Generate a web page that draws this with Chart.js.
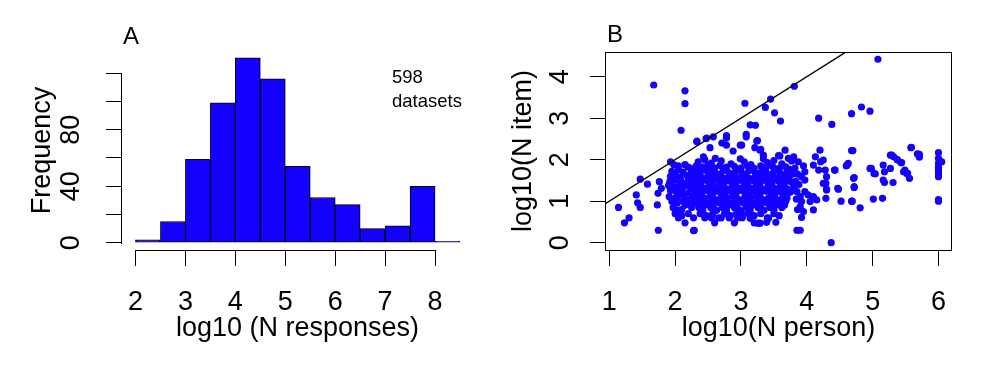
<!DOCTYPE html>
<html>
<head>
<meta charset="utf-8">
<script src="https://cdn.jsdelivr.net/npm/chart.js@4.4.1/dist/chart.umd.min.js"></script>
<style>
  html, body { margin: 0; padding: 0; background: #fff; }
  #wrap { position: relative; width: 996px; height: 371px; overflow: hidden; }
  canvas { position: absolute; top: 0; }
  #histA { left: 0; }
  #scatB { left: 498px; }
</style>
</head>
<body>
<div id="wrap">
  <canvas id="histA" width="498" height="371"></canvas>
  <canvas id="scatB" width="498" height="371"></canvas>
</div>
<script>
//
// Panel A : histogram of log10 (N responses)
var binEdges = [2, 2.5, 3, 3.5, 4, 4.5, 5, 5.5, 6, 6.5, 7, 7.5, 8, 8.5];
var binCounts = [2, 15, 59, 99, 131, 116, 54, 32, 27, 10, 12, 40, 1];
var histXTicks = [2, 3, 4, 5, 6, 7, 8];
var histYTicks = [0, 20, 40, 60, 80, 100, 120];
var histYLabels = ['0', '', '40', '', '80', '', ''];

//
// Panel B : log10(N person) vs log10(N item)
var scatXTicks = [1, 2, 3, 4, 5, 6];
var scatYTicks = [0, 1, 2, 3, 4];
var diagLine = [0, 5];
var scatPoints = [
    // sparse points, left and top
    [1.14,0.85],[1.23,0.48],[1.30,0.60],[1.41,1.15],[1.43,0.96],[1.47,0.85],[1.47,1.53],[1.58,1.41],
    [1.675,3.80],[1.745,0.30],[1.73,0.91],[1.76,1.47],[1.79,1.31],[1.74,1.19],[2.29,0.30],[2.28,0.29],
    [2.09,2.71],[2.15,3.66],[2.15,3.35],[2.33,2.45],[2.47,2.51],[2.78,2.58],[3.06,3.36],[3.08,2.61],
    [3.14,2.84],[3.22,2.83],[3.37,3.26],[3.45,3.46],[3.51,3.13],[3.60,2.93],[3.81,3.77],[4.18,3.00],
    [4.38,2.85],[4.68,3.11],[4.83,3.27],[4.96,3.17],[5.08,4.42],[4.37,0.00],[3.85,0.30],[3.90,0.30],
    [3.53,0.49],[3.29,0.47],[3.39,0.49],[3.14,0.59],[3.42,0.59],[3.01,0.71],
    // above the main cloud
    [2.33,2.43],[2.48,2.52],[2.58,2.55],[2.53,2.29],[2.71,2.40],[2.78,2.52],[2.78,2.35],[2.88,2.21],
    [2.99,2.35],[2.99,2.02],[3.08,2.55],[3.24,2.45],[3.21,2.29],[3.29,2.23],[3.34,2.02],[3.30,2.25],
    [3.34,2.11],[3.67,2.23],[3.57,2.10],[3.72,2.03],[3.77,1.97],[3.59,2.09],[2.61,2.03],[2.43,2.07],
    [3.25,2.46],[3.01,2.35],
    // right side
    [3.80,2.07],[3.87,1.95],[3.95,1.85],[3.97,1.71],[3.92,1.59],[3.97,1.51],[4.13,2.07],[4.20,2.23],
    [4.25,1.99],[4.10,1.87],[4.18,1.75],[4.28,1.75],[4.25,1.43],[4.30,1.29],[4.29,1.07],[4.10,0.79],
    [4.42,1.75],[4.48,1.29],[4.52,1.00],[4.61,1.87],[4.63,1.91],[4.68,2.22],[4.71,1.55],[4.72,1.33],
    [4.68,1.00],[4.81,0.84],[4.96,1.79],[5.02,1.67],[5.01,1.05],[5.15,1.07],[5.16,1.87],[5.18,1.71],
    [5.27,1.79],[5.16,1.51],[5.18,1.45],[5.31,1.45],[5.27,2.11],[5.32,2.07],[5.38,1.99],[5.44,1.93],
    [5.49,1.75],[5.53,1.67],[5.56,1.55],[5.59,2.30],[5.68,2.14],[5.71,2.06],
    [6.00,2.17],[6.00,2.03],[6.00,1.91],[6.00,1.82],[6.00,1.75],[6.00,1.69],[6.00,1.64],[6.00,1.59],
    [6.05,1.95],[6.00,1.00],[6.00,1.04],
    [3.80,1.35],[3.85,1.23],[3.90,1.11],[3.92,0.99],[3.90,0.87],[3.95,0.75],[3.92,0.61],[4.10,1.11],
    [4.15,1.03],[4.05,0.99],[3.97,1.23],[4.02,1.15],[4.30,1.59],[4.29,1.43],[4.30,1.27],[4.21,1.95],
    [4.47,1.31],[4.43,1.75],[4.60,1.85],[4.70,2.22],[4.72,1.57],[4.72,1.35],[4.69,1.00],[4.98,1.79],
    [5.04,1.66],[5.29,2.11],[5.37,2.01],[5.43,1.93],[5.47,1.71],[5.52,1.67],[5.58,2.29],[5.71,2.13],
    [3.82,1.80],[3.86,1.65],[3.83,1.48],[3.88,1.40],[3.84,1.05],[3.86,0.80],
    // left part of the main cloud
    [2.05,1.85],[2.15,1.88],[2.20,1.82],[1.95,1.72],[2.05,1.76],[2.12,1.70],[2.25,1.78],
    [1.93,1.60],[2.00,1.64],[2.08,1.58],[2.18,1.62],[2.26,1.60],[1.92,1.48],[2.00,1.52],[2.10,1.46],
    [2.20,1.50],[2.28,1.45],[1.90,1.38],[1.98,1.34],[2.06,1.40],[2.15,1.36],[2.24,1.32],[1.93,1.26],
    [2.02,1.23],[2.10,1.28],[2.20,1.20],[2.30,1.26],[1.91,1.11],[2.00,1.08],[2.08,1.15],[2.17,1.04],
    [2.26,1.11],[1.95,1.00],[2.03,0.95],[2.12,1.00],[2.22,0.95],[2.30,1.00],[1.97,0.85],[2.05,0.78],
    [2.15,0.90],[2.25,0.85],[2.00,0.70],[2.10,0.65],[2.20,0.70],[2.28,0.60],[2.05,0.60],[2.15,0.48],
    [1.93,1.95],[1.98,1.88],[1.95,1.45],[2.04,1.30],[2.13,1.18],[2.02,1.05],[2.20,1.40],[2.10,0.80],
    [2.25,1.70],
    // main cloud
    [2.35,1.95],[2.45,2.00],[2.55,1.92],[2.70,1.97],[2.85,1.90],[3.05,1.95],[3.15,1.88],[3.40,1.93],
    [3.50,1.98],[3.62,1.90],
    [2.32,1.85],[2.42,1.82],[2.50,1.87],[2.60,1.80],[2.68,1.86],[2.78,1.82],[2.90,1.84],[3.00,1.80],
    [3.10,1.85],[3.20,1.79],[3.30,1.85],[3.38,1.80],[3.48,1.84],[3.58,1.78],[3.68,1.83],
    [2.37,1.78],[2.55,1.77],[2.73,1.79],[2.95,1.77],[3.15,1.78],[3.35,1.76],[3.55,1.78],[3.74,1.77],
    [2.30,1.72],[2.38,1.68],[2.47,1.74],[2.56,1.70],[2.64,1.66],[2.73,1.73],[2.82,1.68],[2.92,1.72],
    [3.02,1.67],[3.12,1.73],[3.22,1.68],[3.31,1.71],[3.40,1.66],[3.50,1.72],[3.60,1.67],[3.70,1.70],
    [3.78,1.65],
    [2.34,1.66],[2.52,1.65],[2.69,1.64],[2.87,1.65],[3.07,1.64],[3.27,1.65],[3.45,1.64],[3.65,1.63],
    [2.33,1.60],[2.41,1.56],[2.50,1.62],[2.58,1.57],[2.67,1.60],[2.76,1.55],[2.85,1.61],[2.94,1.57],
    [3.03,1.60],[3.13,1.55],[3.22,1.60],[3.32,1.56],[3.42,1.62],[3.52,1.57],[3.62,1.60],[3.72,1.55],
    [2.37,1.53],[2.54,1.54],[2.71,1.52],[2.89,1.53],[3.08,1.52],[3.27,1.53],[3.47,1.52],[3.67,1.51],
    [2.31,1.48],[2.39,1.45],[2.48,1.50],[2.57,1.46],[2.66,1.49],[2.74,1.43],[2.83,1.48],[2.92,1.45],
    [3.01,1.50],[3.10,1.44],[3.20,1.48],[3.29,1.43],[3.38,1.49],[3.47,1.45],[3.57,1.48],[3.66,1.43],
    [3.76,1.47],
    [2.35,1.41],[2.53,1.42],[2.70,1.40],[2.88,1.41],[3.06,1.41],[3.25,1.40],[3.43,1.41],[3.62,1.40],
    [3.80,1.42],
    [2.34,1.36],[2.43,1.32],[2.52,1.38],[2.60,1.34],[2.69,1.36],[2.78,1.30],[2.87,1.36],[2.96,1.32],
    [3.05,1.38],[3.14,1.32],[3.23,1.36],[3.32,1.30],[3.41,1.35],[3.50,1.32],[3.60,1.36],[3.70,1.30],
    [2.38,1.28],[2.56,1.29],[2.73,1.27],[2.91,1.28],[3.09,1.28],[3.27,1.27],[3.45,1.28],[3.65,1.26],
    [2.32,1.23],[2.40,1.20],[2.49,1.26],[2.58,1.20],[2.67,1.23],[2.75,1.18],[2.84,1.24],[2.93,1.20],
    [3.02,1.26],[3.11,1.20],[3.20,1.23],[3.29,1.18],[3.38,1.24],[3.47,1.20],[3.56,1.23],[3.66,1.18],
    [3.75,1.22],
    [2.37,1.15],[2.54,1.16],[2.72,1.15],[2.90,1.16],[3.08,1.15],[3.27,1.15],[3.46,1.15],[3.64,1.15],
    [2.35,1.11],[2.44,1.08],[2.53,1.11],[2.61,1.04],[2.70,1.11],[2.79,1.08],[2.88,1.11],[2.97,1.04],
    [3.06,1.11],[3.15,1.08],[3.24,1.11],[3.33,1.04],[3.42,1.08],[3.51,1.11],[3.60,1.04],[3.70,1.08],
    [2.39,1.04],[2.57,1.04],[2.75,1.04],[2.92,1.08],[3.10,1.04],[3.29,1.08],[3.47,1.04],[3.66,1.04],
    [2.33,0.95],[2.42,1.00],[2.50,0.95],[2.59,1.00],[2.68,0.95],[2.77,1.00],[2.86,0.95],[2.95,1.00],
    [3.04,0.95],[3.13,1.00],[3.22,0.95],[3.31,1.00],[3.40,0.95],[3.50,1.00],[3.59,0.95],[3.68,1.00],
    [2.40,0.90],[2.58,0.90],[2.76,0.90],[2.94,0.90],[3.12,0.90],[3.30,0.90],[3.48,0.90],[3.66,0.90],
    [2.36,0.85],[2.45,0.90],[2.54,0.85],[2.63,0.78],[2.72,0.85],[2.81,0.90],[2.90,0.85],[2.99,0.78],
    [3.08,0.85],[3.17,0.90],[3.26,0.85],[3.35,0.78],[3.44,0.85],[3.53,0.90],[3.62,0.85],
    [2.42,0.78],[2.60,0.78],[2.78,0.78],[2.95,0.78],[3.14,0.78],[3.32,0.78],[3.50,0.78],
    [2.38,0.70],[2.47,0.65],[2.57,0.70],[2.66,0.60],[2.75,0.70],[2.84,0.65],[2.93,0.70],[3.02,0.60],
    [3.11,0.70],[3.20,0.65],[3.30,0.70],[3.40,0.60],[3.50,0.70],[3.58,0.65],
    [2.45,0.60],[2.55,0.60],[2.70,0.60],[2.82,0.60],[2.95,0.60],[3.20,0.48],[2.60,0.48],[2.90,0.48],
    [3.26,0.47]
];

var fontFamily = "'Liberation Sans', Arial, Helvetica, sans-serif";
var axisFont = { family: fontFamily, size: 27 };
var blue = '#1400ff';

//
// small plugins for the R look
function notesPlugin(items) {
    return {
        id: 'notes',
        afterDraw: function(chart) {
            var ctx = chart.ctx;
            ctx.save();
            items.forEach(function(n) {
                ctx.font = n.size + 'px ' + fontFamily;
                ctx.fillStyle = '#000';
                ctx.textAlign = 'left';
                ctx.textBaseline = 'alphabetic';
                ctx.fillText(n.text, n.x, n.y);
            });
            ctx.restore();
        }
    };
}

// R axis lines: only from first to last tick (hist), or a full box (scatter)
function axisLinePlugin(xTicks, yTicks, box) {
    return {
        id: 'axisLines',
        afterDraw: function(chart) {
            var ctx = chart.ctx, a = chart.chartArea;
            var xs = chart.scales.x, ys = chart.scales.y;
            var left = Math.round(a.left), bottom = Math.round(a.bottom);
            ctx.save();
            ctx.fillStyle = '#000';
            if (box) {
                var top = Math.round(a.top), right = Math.round(a.right);
                ctx.fillRect(left - 1, top, right - left + 2, 1);
                ctx.fillRect(left - 1, bottom, right - left + 2, 1);
                ctx.fillRect(left - 1, top, 1, bottom - top + 1);
                ctx.fillRect(right, top, 1, bottom - top + 1);
            } else {
                var x0 = Math.round(xs.getPixelForValue(xTicks[0]));
                var x1 = Math.round(xs.getPixelForValue(xTicks[xTicks.length - 1]));
                var y0 = Math.round(ys.getPixelForValue(yTicks[0]));
                var y1 = Math.round(ys.getPixelForValue(yTicks[yTicks.length - 1]));
                ctx.fillRect(x0, bottom, x1 - x0 + 1, 1);
                ctx.fillRect(left - 1, y1, 1, y0 - y1 + 1);
            }
            ctx.restore();
        }
    };
}

function rScale(tickValues, labels, opts) {
    var s = {
        type: 'linear',
        min: opts.min,
        max: opts.max,
        offset: false,
        afterBuildTicks: function(scale) {
            scale.ticks = tickValues.map(function(v) { return { value: v }; });
        },
        afterFit: opts.afterFit,
        border: { display: false },
        grid: {
            offset: false,
            drawOnChartArea: false,
            drawTicks: true,
            tickLength: 16,
            tickColor: '#000',
            tickWidth: 1
        },
        ticks: {
            autoSkip: false,
            color: '#000',
            font: axisFont,
            padding: opts.padding,
            callback: function(value, index) {
                return labels ? labels[index] : String(value);
            }
        },
        title: {
            display: true,
            text: opts.title,
            color: '#000',
            font: axisFont,
            padding: opts.titlePadding
        }
    };
    if (opts.vertical) {
        s.ticks.minRotation = 90;
        s.ticks.maxRotation = 90;
        s.ticks.crossAlign = 'center';
    }
    return s;
}

//
// Histogram
var histA = document.getElementById('histA');
if (histA) {
    var histData = binCounts.map(function(c, i) {
        return { x: (binEdges[i] + binEdges[i + 1]) / 2, y: c };
    });
    new Chart(histA.getContext('2d'), {
        type: 'bar',
        data: {
            datasets: [{
                data: histData,
                backgroundColor: blue,
                borderColor: '#000',
                borderWidth: 1,
                borderSkipped: false,
                barPercentage: 1,
                categoryPercentage: 1
            }]
        },
        options: {
            responsive: false,
            animation: false,
            devicePixelRatio: 1,
            layout: { padding: { left: 0, right: 25, top: 51, bottom: 0 } },
            scales: {
                x: rScale(histXTicks, null, {
                    min: 1.73, max: 8.76, padding: 20, title: 'log10 (N responses)',
                    titlePadding: { top: 0, bottom: 26 },
                    afterFit: function(scale) { scale.height = 121; }
                }),
                y: rScale(histYTicks, histYLabels, {
                    min: -5.2, max: 135.8, padding: 19, title: 'Frequency', vertical: true,
                    titlePadding: { top: 26, bottom: 0 },
                    afterFit: function(scale) { scale.width = 122; }
                })
            },
            plugins: {
                legend: { display: false },
                tooltip: { enabled: false }
            }
        },
        plugins: [
            axisLinePlugin(histXTicks, histYTicks, false),
            notesPlugin([
                { text: 'A', x: 123, y: 44, size: 24 },
                { text: '598', x: 392, y: 83, size: 18.5 },
                { text: 'datasets', x: 392, y: 107, size: 18.5 }
            ])
        ]
    });
}

//
// Scatter
var scatB = document.getElementById('scatB');
if (scatB) {
    new Chart(scatB.getContext('2d'), {
        type: 'scatter',
        data: {
            datasets: [{
                type: 'line',
                data: diagLine.map(function(v) { return { x: v, y: v }; }),
                borderColor: '#000',
                borderWidth: 1.4,
                pointRadius: 0,
                fill: false
            }, {
                data: scatPoints.map(function(p) { return { x: p[0], y: p[1] }; }),
                backgroundColor: blue,
                borderWidth: 0,
                pointRadius: 3.6
            }]
        },
        options: {
            responsive: false,
            animation: false,
            devicePixelRatio: 1,
            layout: { padding: { left: 0, right: 45, top: 52, bottom: 0 } },
            scales: {
                x: rScale(scatXTicks, null, {
                    min: 0.95, max: 6.19, padding: 20, title: 'log10(N person)',
                    titlePadding: { top: 0, bottom: 26 },
                    afterFit: function(scale) { scale.height = 121; }
                }),
                y: rScale(scatYTicks, null, {
                    min: -0.176, max: 4.595, padding: 22, title: 'log10(N item)', vertical: true,
                    titlePadding: { top: 9, bottom: 0 },
                    afterFit: function(scale) { scale.width = 108; }
                })
            },
            plugins: {
                legend: { display: false },
                tooltip: { enabled: false }
            }
        },
        plugins: [
            axisLinePlugin(scatXTicks, scatYTicks, true),
            notesPlugin([{ text: 'B', x: 109, y: 42, size: 24 }])
        ]
    });
}
</script>
</body>
</html>
